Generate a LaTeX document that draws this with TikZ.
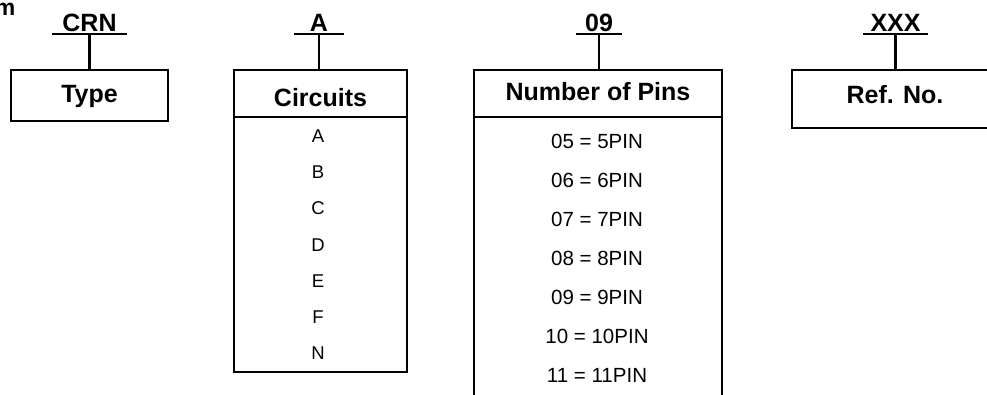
\documentclass[tikz,border=0pt]{standalone}
\usepackage{fontspec}
\setmainfont{Liberation Sans}
\begin{document}
\begin{tikzpicture}[x=1pt,y=-1pt,
  frame/.style={draw, line width=2.6pt, inner sep=0pt, outer sep=0pt},
  code/.style={font=\fontsize{25}{25}\selectfont\bfseries, inner xsep=0pt, inner ysep=2.5pt, text depth=0pt, anchor=south, outer sep=0pt},
  uline/.style={line width=2.2pt},
  stem/.style={line width=2.2pt},
  divline/.style={line width=2pt},
  hdr/.style={font=\fontsize{25}{25}\selectfont\bfseries, inner sep=0pt, anchor=base},
  itemc/.style={font=\fontsize{18.5}{18.5}\selectfont, inner sep=0pt, anchor=base},
  itemp/.style={font=\fontsize{20.5}{20.5}\selectfont, inner sep=0pt, anchor=base}]
\useasboundingbox (0,0) rectangle (987,394);
\clip (0,0) rectangle (987,394);

% cut-off title fragment
\node[font=\fontsize{23}{23}\selectfont\bfseries, inner sep=0pt, anchor=base east] (title) at (15.5,15) {m};

% Type
\node[code, minimum width=75pt] (crn) at (89.5,34) {CRN};
\node[frame, minimum width=157pt, minimum height=51pt, anchor=north] (type) at (89.5,70) {};
\node[hdr] (typet) at (89.5,102) {Type};
\draw[uline] (crn.south west) -- (crn.south east);
\draw[stem] (crn.south) -- (type.north);

% Circuits
\node[code, minimum width=50pt] (ca) at (319,34) {A};
\node[frame, minimum width=173pt, minimum height=302pt, anchor=north west] (circ) at (234,70) {};
\coordinate (cdiv) at (0,117);
\draw[divline] (circ.west |- cdiv) -- (circ.east |- cdiv);
\node[hdr] (circt) at (320.5,106) {Circuits};
\draw[uline] (ca.south west) -- (ca.south east);
\draw[stem] (ca.south) -- (ca.south |- circ.north);
\foreach \t [count=\i from 0] in {A,B,C,D,E,F,N}{
  \node[itemc] (c\i) at (318,142.7+36.1*\i) {\t};
}

% Number of Pins
\node[code, minimum width=46pt] (cn) at (599,34) {09};
\node[frame, minimum width=248pt, minimum height=360pt, anchor=north west] (pins) at (474,70) {};
\coordinate (pdiv) at (0,117);
\draw[divline] (pins.west |- pdiv) -- (pins.east |- pdiv);
\node[hdr] (pinst) at (598,100.5) {Number of Pins};
\draw[uline] (cn.south west) -- (cn.south east);
\draw[stem] (cn.south) -- (cn.south |- pins.north);
\foreach \t [count=\i from 0] in {05 = 5PIN,06 = 6PIN,07 = 7PIN,08 = 8PIN,09 = 9PIN,10 = 10PIN,11 = 11PIN}{
  \node[itemp] (p\i) at (597,148.3+39.1*\i) {\t};
}

% Ref. No.
\node[code, minimum width=65pt] (cx) at (895.5,34) {XXX};
\node[frame, minimum width=220pt, minimum height=58pt, anchor=north west] (ref) at (792,70) {};
\node[hdr] (reft) at (895,103) {Ref. No.};
\draw[uline] (cx.south west) -- (cx.south east);
\draw[stem] (cx.south) -- (cx.south |- ref.north);
\end{tikzpicture}
\end{document}
